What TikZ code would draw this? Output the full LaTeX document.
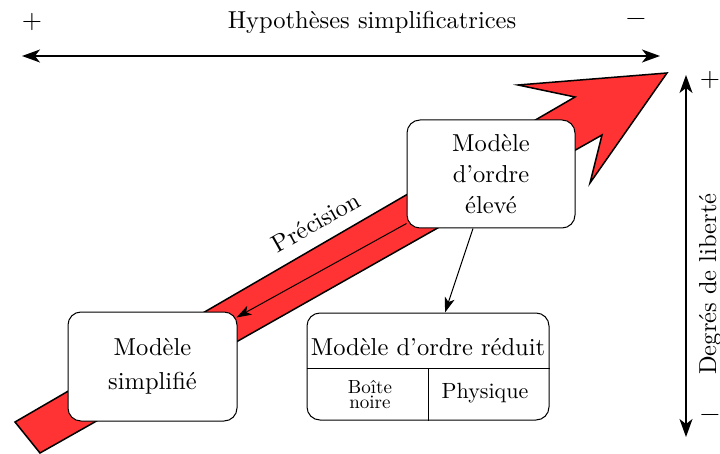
\documentclass[tikz,border=0pt]{standalone}
\usepackage{fontspec}
\setmainfont{lmroman10-regular}[Extension=.otf, BoldFont=lmroman10-bold, ItalicFont=lmroman10-italic]
\usetikzlibrary{arrows.meta}
\definecolor{redarrow}{RGB}{255,51,51}
\begin{document}
\begin{tikzpicture}[x=1pt,y=-1pt,
  font=\fontsize{24.5}{31}\selectfont,
  bigtips/.style={{Stealth[length=18pt,width=13pt,inset=5pt]}-{Stealth[length=18pt,width=13pt,inset=5pt]}},
  smalltip/.style={-{Stealth[length=15pt,width=10pt,inset=4pt]}},
  box/.style={draw, fill=white, rounded corners=13pt, line width=1pt, align=center, inner sep=0pt},
  lbl/.style={inner sep=0pt},
  sign/.style={inner sep=0pt, font=\fontsize{26}{30}\selectfont}]
\useasboundingbox (0,0) rectangle (720,454);
% red arrow
\draw[line width=1.5pt, fill=redarrow, line join=miter]
  (15,422) -- (575,97) -- (518,85) -- (667,73) -- (590,183) -- (602,135) -- (40,453) -- cycle;
% axes
\coordinate (hl) at (22,56);
\coordinate (hr) at (660,56);
\draw[bigtips, line width=1.4pt] (hl) -- (hr);
\coordinate (vt) at (686,75);
\coordinate (vb) at (686,437);
\draw[bigtips, line width=1.2pt] (vb) -- (vt);
\node[sign] (plusL) at (32,22) {+};
\node[sign] (minusR) at (636,22) {−};
\node[lbl] (hyp) at (372,22) {Hypothèses simplificatrices};
\node[sign] (plusT) at (710,80) {+};
\node[sign] (minusB) at (710,418) {−};
\node[lbl, rotate=90] (deg) at (710,284) {Degrés de liberté};
\node[lbl, rotate=29.5] (prec) at (316,222) {Précision};
% boxes
\node[box, minimum width=168pt, minimum height=108pt] (eleve) at (491,174) {Modèle\\d’ordre\\élevé};
\node[box, minimum width=169pt, minimum height=109pt, font=\fontsize{24.5}{34}\selectfont] (simp) at (152.5,366.5) {Modèle\\simplifié};
\node[box, minimum width=242pt, minimum height=107pt] (red) at (428,366.5) {};
\draw[line width=1pt] ([yshift=-1.5pt]red.west) -- ([yshift=-1.5pt]red.east);
\draw[line width=1pt] ([yshift=-1.5pt]red.center) -- (red.south);
\node[lbl] (redt) at (428,347) {Modèle d’ordre réduit};
\node[lbl, font=\fontsize{19}{15}\selectfont, align=center] (boite) at (370,395) {Boîte\\noire};
\node[lbl, font=\fontsize{22}{24}\selectfont] (phys) at (485,393) {Physique};
% connectors
\draw[smalltip, line width=1pt] ([yshift=5pt]eleve.south west) -- ([xshift=-1pt,yshift=-6pt]simp.north east);
\draw[smalltip, line width=1pt] ([xshift=-18pt]eleve.south) -- ([xshift=17pt]red.north);
\end{tikzpicture}
\end{document}
